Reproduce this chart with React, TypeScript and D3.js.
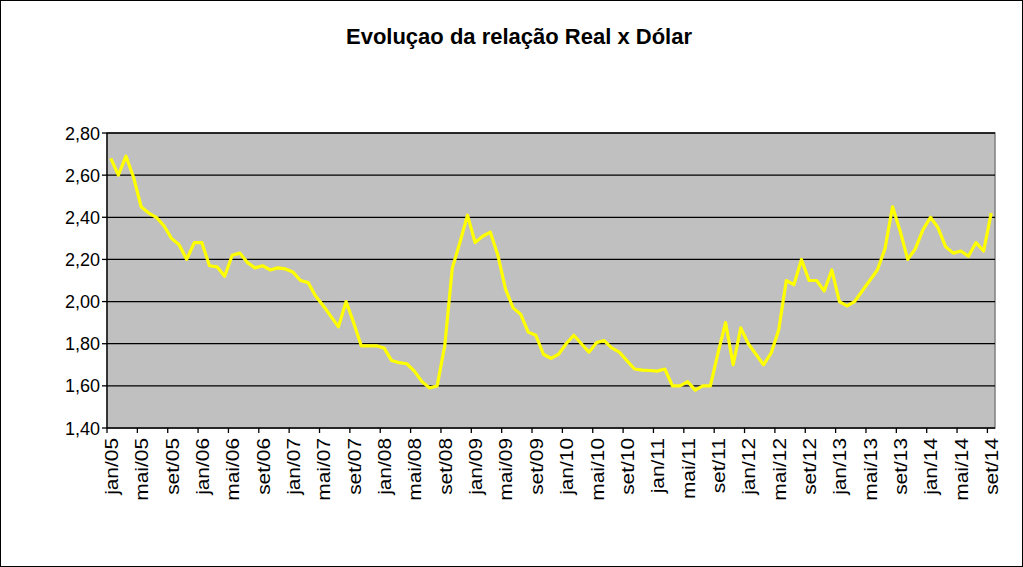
import React from "react";
import * as d3 from "d3";

const monthNames = ["jan", "fev", "mar", "abr", "mai", "jun", "jul", "ago", "set", "out", "nov", "dez"];
const categories: string[] = [];
for (let y = 5; y <= 14; y++) {
  for (let m = 0; m < 12; m++) {
    if (y === 14 && m > 8) break;
    categories.push(`${monthNames[m]}/${String(y).padStart(2, "0")}`);
  }
}

const values = [
  2.68, 2.60, 2.69, 2.59, 2.45, 2.42, 2.40, 2.36, 2.30, 2.27, 2.20, 2.28,
  2.28, 2.17, 2.165, 2.12, 2.22, 2.23, 2.185, 2.16, 2.17, 2.15, 2.16, 2.155,
  2.14, 2.10, 2.09, 2.025, 1.98, 1.93, 1.88, 2.00, 1.90, 1.79, 1.79, 1.79,
  1.78, 1.72, 1.71, 1.705, 1.67, 1.62, 1.59, 1.60, 1.79, 2.16, 2.28, 2.41,
  2.28, 2.31, 2.33, 2.22, 2.06, 1.97, 1.94, 1.855, 1.84, 1.75, 1.73, 1.75,
  1.80, 1.84, 1.80, 1.76, 1.805, 1.815, 1.78, 1.76, 1.72, 1.68, 1.675, 1.673,
  1.67, 1.68, 1.60, 1.60, 1.62, 1.58, 1.60, 1.60, 1.755, 1.90, 1.70, 1.875,
  1.80, 1.75, 1.70, 1.755, 1.865, 2.10, 2.08, 2.20, 2.10, 2.10, 2.05, 2.15,
  2.00, 1.98, 2.00, 2.05, 2.10, 2.15, 2.25, 2.45, 2.335, 2.20, 2.25, 2.34,
  2.40, 2.35, 2.26, 2.23, 2.24, 2.215, 2.28, 2.24, 2.42,
];

const yTicks = [1.4, 1.6, 1.8, 2.0, 2.2, 2.4, 2.6, 2.8];
const title = "Evoluçao da relação Real x Dólar";

const W = 1023;
const H = 567;
const left = 107;
const right = 995;
const top = 133;
const bottom = 428;
const font = "'Liberation Sans', Arial, sans-serif";

export default function App() {
  const x = d3.scaleBand<string>().domain(categories).range([left, right]).paddingInner(0).paddingOuter(0);
  const y = d3.scaleLinear().domain([1.4, 2.8]).range([bottom, top]);
  const line = d3
    .line<number>()
    .x((_, i) => (x(categories[i]) as number) + x.bandwidth() / 2)
    .y((d) => y(d));
  const fmt = (v: number) => v.toFixed(2).replace(".", ",");
  const labelIdx = categories.map((_, i) => i).filter((i) => i % 4 === 0);

  return (
    <svg width={W} height={H} style={{ position: "absolute", left: 0, top: 0 }}>
      <rect x={0.5} y={0.5} width={W - 1} height={H - 1} fill="#fff" stroke="#000" strokeWidth={1} />
      <text x={519} y={44} textAnchor="middle" fontFamily={font} fontWeight="bold" fontSize={22}>
        {title}
      </text>
      <rect x={left} y={top} width={right - left} height={bottom - top} fill="#C0C0C0" stroke="#808080" strokeWidth={1.5} />
      {yTicks.slice(1).map((t) => (
        <line key={t} x1={left} x2={right} y1={y(t)} y2={y(t)} stroke="#000" strokeWidth={1.3} />
      ))}
      <line x1={left} x2={left} y1={top} y2={bottom} stroke="#000" strokeWidth={1.3} />
      <line x1={left} x2={right} y1={bottom} y2={bottom} stroke="#000" strokeWidth={1.3} />
      {yTicks.map((t) => (
        <g key={"yt" + t}>
          <line x1={left - 5} x2={left} y1={y(t)} y2={y(t)} stroke="#000" strokeWidth={1.3} />
          <text x={100} y={y(t) + 6.5} textAnchor="end" fontFamily={font} fontSize={18}>
            {fmt(t)}
          </text>
        </g>
      ))}
      {labelIdx.map((i) => {
        const bx = x(categories[i]) as number;
        const cx = bx + x.bandwidth() / 2;
        return (
          <g key={"xt" + i}>
            <line x1={bx} x2={bx} y1={bottom} y2={bottom + 5} stroke="#000" strokeWidth={1.3} />
            <text
              transform={`translate(${cx + 7},${bottom + 10}) rotate(-90) scale(1.16,1)`}
              textAnchor="end"
              fontFamily={font}
              fontSize={18}
            >
              {categories[i]}
            </text>
          </g>
        );
      })}
      <path d={line(values) as string} fill="none" stroke="#FFFF00" strokeWidth={3.2} strokeLinejoin="round" />
    </svg>
  );
}
